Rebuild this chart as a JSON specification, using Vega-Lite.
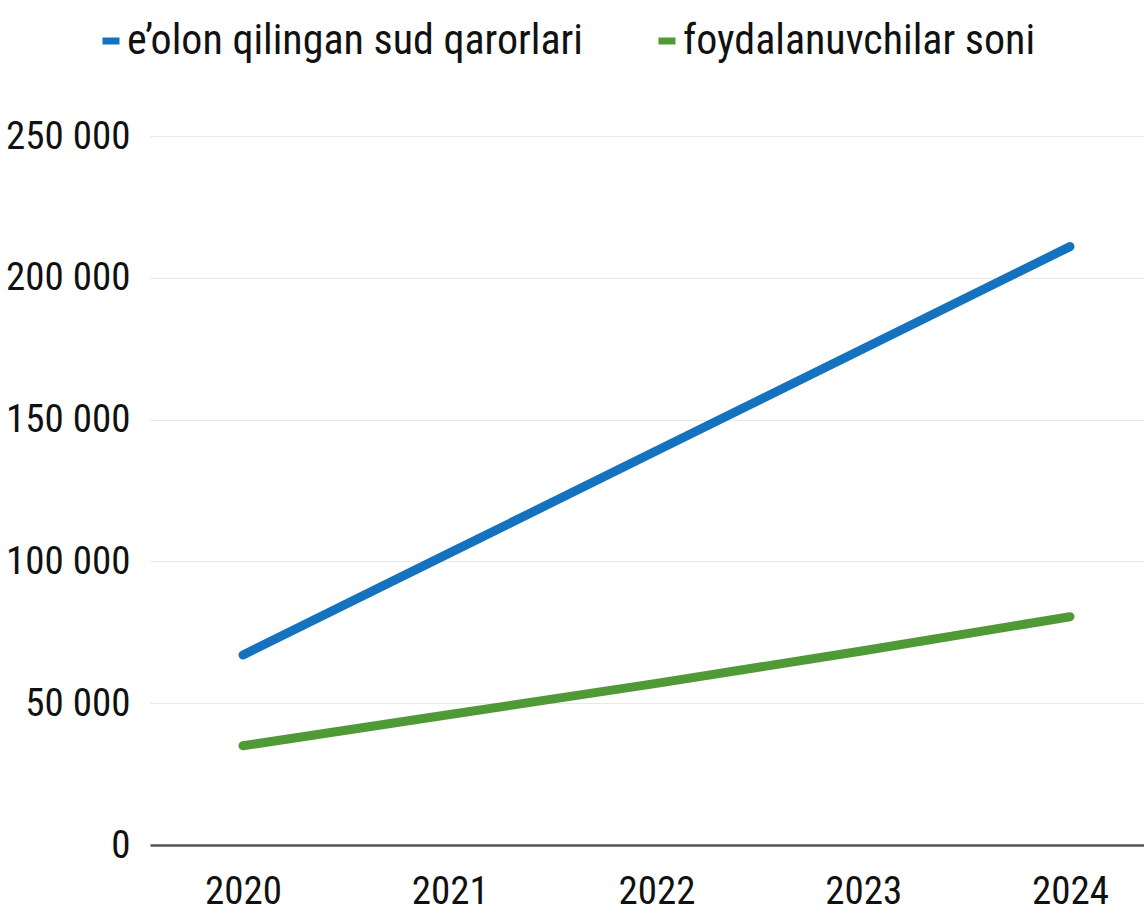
{
  "$schema": "https://vega.github.io/schema/vega-lite/v6.json",
  "autosize": "none",
  "width": 994,
  "height": 709,
  "padding": {"left": 150, "top": 136, "right": 0, "bottom": 72},
  "background": "white",
  "config": {
    "font": "Roboto Condensed",
    "view": {"stroke": null}
  },
  "data": {
    "values": [
      {"year": 2020, "series": "e’olon qilingan sud qarorlari", "value": 67000},
      {"year": 2021, "series": "e’olon qilingan sud qarorlari", "value": 103000},
      {"year": 2022, "series": "e’olon qilingan sud qarorlari", "value": 139000},
      {"year": 2023, "series": "e’olon qilingan sud qarorlari", "value": 175000},
      {"year": 2024, "series": "e’olon qilingan sud qarorlari", "value": 211000},
      {"year": 2020, "series": "foydalanuvchilar soni", "value": 35000},
      {"year": 2021, "series": "foydalanuvchilar soni", "value": 46000},
      {"year": 2022, "series": "foydalanuvchilar soni", "value": 57000},
      {"year": 2023, "series": "foydalanuvchilar soni", "value": 68500},
      {"year": 2024, "series": "foydalanuvchilar soni", "value": 80500}
    ]
  },
  "mark": {"type": "line", "strokeWidth": 9, "strokeCap": "round", "strokeJoin": "round"},
  "encoding": {
    "x": {
      "field": "year",
      "type": "quantitative",
      "scale": {"domain": [2019.55, 2024.358], "nice": false, "zero": false},
      "axis": {
        "values": [2020, 2021, 2022, 2023, 2024],
        "format": "d",
        "grid": false,
        "ticks": false,
        "domain": true,
        "domainColor": "#555555",
        "domainWidth": 2.5,
        "labelFontSize": 39,
        "labelFontWeight": 400,
        "labelColor": "#111111",
        "labelPadding": 27,
        "labelFont": "Roboto Condensed",
        "title": null
      }
    },
    "y": {
      "field": "value",
      "type": "quantitative",
      "scale": {"domain": [0, 250000], "nice": false},
      "axis": {
        "values": [0, 50000, 100000, 150000, 200000, 250000],
        "labelExpr": "replace(format(datum.value, ','), ',', ' ')",
        "grid": true,
        "gridColor": "#e8e8e8",
        "gridWidth": 1.2,
        "ticks": false,
        "domain": false,
        "labelFontSize": 39,
        "labelFontWeight": 400,
        "labelColor": "#111111",
        "labelPadding": 20,
        "labelFont": "Roboto Condensed",
        "title": null
      }
    },
    "color": {
      "field": "series",
      "type": "nominal",
      "scale": {
        "domain": ["e’olon qilingan sud qarorlari", "foydalanuvchilar soni"],
        "range": ["#1572bf", "#4f9a37"]
      },
      "legend": {
        "orient": "none",
        "legendX": -60,
        "legendY": -116,
        "direction": "horizontal",
        "title": null,
        "labelFontSize": 42,
        "labelFontWeight": 400,
        "labelFont": "Roboto Condensed",
        "labelColor": "#111111",
        "labelLimit": 1000,
        "symbolType": "stroke",
        "symbolStrokeWidth": 7,
        "symbolSize": 289,
        "columnPadding": 60,
        "labelOffset": -5
      }
    }
  }
}
